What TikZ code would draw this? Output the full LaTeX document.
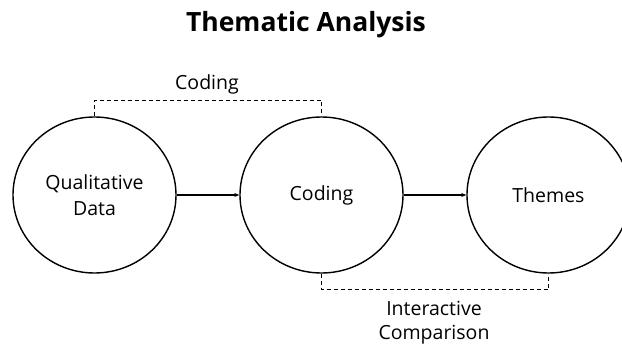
\documentclass[tikz,border=0pt]{standalone}
\usepackage{fontspec}
\setmainfont{Open Sans}
\usetikzlibrary{shapes.geometric,arrows.meta}
\begin{document}
\begin{tikzpicture}[x=1pt,y=-1pt,
  stage/.style={ellipse,draw,line width=1.4pt,minimum width=163pt,minimum height=156pt,inner sep=0pt,font=\fontsize{19.5}{26}\selectfont,align=center},
  flow/.style={-{Stealth[length=5pt,width=4pt]},line width=1.1pt},
  loop/.style={line width=1.5pt,dash pattern=on 4pt off 3pt},
  lbl/.style={font=\fontsize{19.5}{24}\selectfont,align=center,inner sep=0pt}]
\useasboundingbox (0,0) rectangle (622,345);
\clip (0,0) rectangle (622,345);
\node[anchor=base,font=\bfseries\fontsize{26.5}{30}\selectfont,inner sep=0pt] (title) at (306,32) {Thematic Analysis};
\node[stage] (q) at (94.5,195) {Qualitative\\Data};
\node[stage] (c) at (321.5,195) {Coding};
\node[stage] (t) at (548.5,195) {Themes};
\draw[flow] (q.east) -- (c.west);
\draw[flow] (c.east) -- (t.west);
\draw[loop] (q.north) -- ++(0,-16) -| (c.north);
\draw[loop] (c.south) -- ++(0,16) -| (t.south);
\node[lbl,anchor=base] (lc) at (207,90) {Coding};
\node[lbl,anchor=north] (li) at (434,301) {Interactive\\Comparison};
\end{tikzpicture}
\end{document}
